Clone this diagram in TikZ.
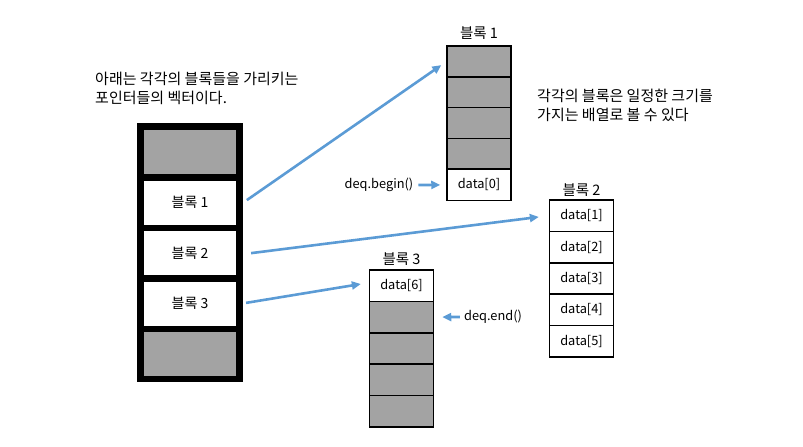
\documentclass[tikz,border=0pt]{standalone}
\usepackage{fontspec}
\setmainfont{Noto Sans CJK KR}
\usetikzlibrary{arrows.meta,positioning}
\definecolor{ink}{HTML}{000000}
\definecolor{shade}{HTML}{A3A3A3}
\definecolor{pointer}{HTML}{5B9BD5}

\begin{document}
\begin{tikzpicture}[x=1pt,y=-1pt,
  every node/.style={font=\fontsize{12.8}{19}\selectfont,inner sep=0pt},
  vecbox/.style={fill=ink,minimum width=106pt,minimum height=259pt},
  slot/.style={fill=white,minimum width=92pt,minimum height=44pt,font=\fontsize{14}{19}\selectfont},
  emptyslot/.style={slot,fill=shade},
  cell/.style={draw=ink,line width=1.5pt,fill=white,minimum width=64pt,minimum height=31.4pt},
  emptycell/.style={cell,fill=shade},
  title/.style={font=\fontsize{14.5}{19}\selectfont},
  note/.style={align=left,anchor=north west,font=\fontsize{15}{19}\selectfont},
  edge/.style={-{Triangle[length=9pt,width=8pt]},draw=pointer,line width=2.6pt}
]
\useasboundingbox (0,0) rectangle (803,447);

% vector of pointers
\node[vecbox] (vec) at (190,252) {};
\node[emptyslot] (vec0) at (190,152) {};
\node[slot] (vec1) at (190,202.5) {블록 1};
\node[slot] (vec2) at (190,253) {블록 2};
\node[slot] (vec3) at (190,303.5) {블록 3};
\node[emptyslot] (vec4) at (190,354) {};

% block 1
\foreach \i in {0,...,3}
  \node[emptycell] (b1c\i) at (479,{61.7+30.8*\i}) {};
\node[cell] (b1c4) at (479,184.9) {data[0]};
\node[title,above=6pt of b1c0] (b1title) {블록 1};

% block 2
\foreach \i/\d in {0/1,1/2,2/3,3/4,4/5}
  \node[cell] (b2c\i) at (581.5,{215.7+31.4*\i}) {data[\d]};
\node[title,above=3pt of b2c0] (b2title) {블록 2};

% block 3
\node[cell] (b3c0) at (401.5,285.7) {data[6]};
\foreach \i in {1,...,4}
  \node[emptycell] (b3c\i) at (401.5,{285.7+31.4*\i}) {};
\node[title,above=4pt of b3c0] (b3title) {블록 3};

% notes
\node[note] (vecnote) at (95,72) {아래는 각각의 블록들을 가리키는\\포인터들의 벡터이다.};
\node[note] (blocknote) at (537,89) {각각의 블록은 일정한 크기를\\가지는 배열로 볼 수 있다};
\node (begin) at (379,185) {deq.begin()};
\node (end) at (493,317) {deq.end()};

% pointers
\draw[edge,shorten <=13pt,shorten >=6pt] ([yshift=-5pt]vec1.east) -- (b1c0.west);
\draw[edge,shorten <=15pt,shorten >=10pt] ([yshift=-2pt]vec2.east) -- (b2c0.west);
\draw[edge,shorten <=10pt,shorten >=8pt] ([yshift=-1pt]vec3.east) -- ([yshift=3pt]b3c0.west);
\draw[edge,shorten <=5pt,shorten >=6pt] (begin.east) -- (b1c4.west);
\draw[edge,shorten <=4pt,shorten >=8pt] (end.west) -- (b3c1.east);
\end{tikzpicture}
\end{document}
